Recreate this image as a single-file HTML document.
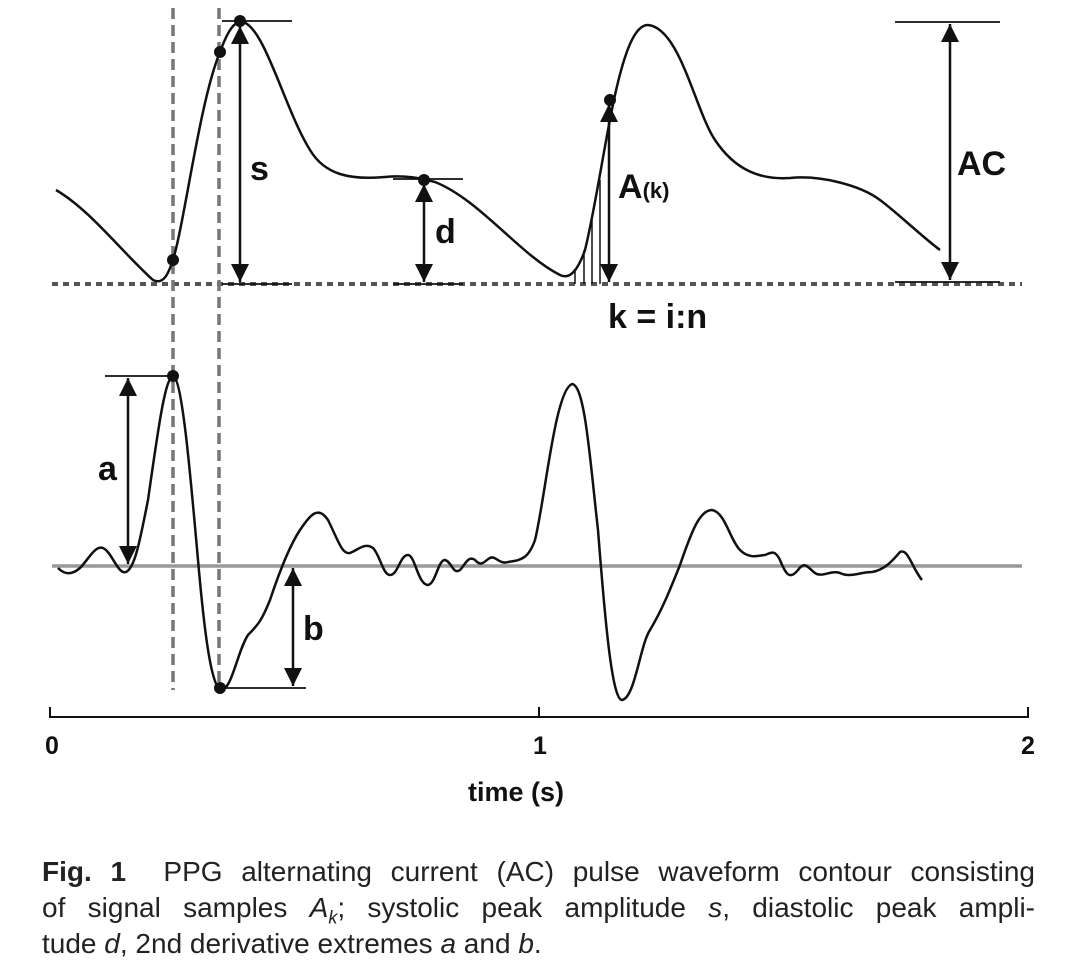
<!DOCTYPE html>
<html><head><meta charset="utf-8"><style>
body{margin:0;background:#fff;width:1081px;height:975px;overflow:hidden}
svg{position:absolute;left:0;top:0}
.cap{position:absolute;left:42px;top:854px;font-family:"Liberation Sans",sans-serif;font-size:28px;line-height:36px;color:#222;width:993px}
.cap div{text-align:justify;text-align-last:justify;white-space:nowrap}
.cap div.last{text-align-last:left}
</style></head><body>
<svg width="1081" height="975" viewBox="0 0 1081 975">
<defs>
<marker id="ah2" viewBox="0 0 10 10" refX="10" refY="5" markerWidth="30" markerHeight="18" markerUnits="userSpaceOnUse" orient="auto-start-reverse"><path d="M0,0L10,5L0,10z" fill="#111"/></marker>
</defs>
<g font-family="Liberation Sans,sans-serif" font-weight="bold" fill="#111">
<line x1="52" y1="284" x2="1022" y2="284" stroke="#555" stroke-width="4" stroke-dasharray="6,5"/>
<line x1="173" y1="8" x2="173" y2="690" stroke="#777" stroke-width="3.5" stroke-dasharray="11,6"/>
<line x1="219" y1="8" x2="219" y2="690" stroke="#777" stroke-width="3.5" stroke-dasharray="11,6"/>
<path d="M56,190 C90,210 120,250 153,280 C163,285 168,275 173,260 C185,220 200,100 220,52 C228,30 235,20 243,22 C265,28 285,110 310,150 C325,175 350,180 385,177 C405,175 420,178 435,182 C480,200 520,255 560,275 C570,280 578,270 585,250 C595,210 605,140 615,95 C625,50 635,25 648,25 C680,28 695,110 715,140 C735,170 760,180 790,178 C820,175 860,185 880,200 C900,215 920,235 940,250" fill="none" stroke="#111" stroke-width="2.5"/>
<g stroke="#111" stroke-width="1.5"><line x1="575" y1="270" x2="575" y2="284"/><line x1="584" y1="250" x2="584" y2="284"/><line x1="592" y1="218" x2="592" y2="284"/><line x1="600" y1="180" x2="600" y2="284"/></g>
<g stroke="#111" stroke-width="1.8">
<line x1="222" y1="21" x2="292" y2="21"/><line x1="222" y1="284" x2="292" y2="284"/>
<line x1="393" y1="179" x2="463" y2="179"/><line x1="393" y1="284" x2="463" y2="284"/>
<line x1="895" y1="22" x2="1000" y2="22"/><line x1="895" y1="282" x2="1000" y2="282"/>
<line x1="105" y1="376" x2="173" y2="376"/><line x1="105" y1="566" x2="173" y2="566"/>
<line x1="218" y1="566" x2="306" y2="566"/><line x1="218" y1="688" x2="306" y2="688"/>
</g>
<g stroke="#111" stroke-width="2.5" marker-start="url(#ah2)" marker-end="url(#ah2)">
<line x1="240" y1="26" x2="240" y2="282"/>
<line x1="424" y1="184" x2="424" y2="282"/>
<line x1="609" y1="104" x2="609" y2="282"/>
<line x1="950" y1="24" x2="950" y2="280"/>
<line x1="128" y1="378" x2="128" y2="564"/>
<line x1="293" y1="568" x2="293" y2="686"/>
</g>
<g fill="#111"><circle cx="173" cy="260" r="6"/><circle cx="220" cy="52" r="6"/><circle cx="240" cy="21" r="6"/><circle cx="424" cy="180" r="6"/><circle cx="610" cy="100" r="6"/><circle cx="173" cy="376" r="6"/><circle cx="220" cy="688" r="6"/></g>
<text x="250" y="180" font-size="34">s</text>
<text x="435" y="243" font-size="34">d</text>
<text x="618" y="198" font-size="34">A<tspan font-size="22">(k)</tspan></text>
<text x="957" y="175" font-size="34">AC</text>
<text x="608" y="328" font-size="34">k = i:n</text>
<text x="98" y="480" font-size="34">a</text>
<text x="303" y="640" font-size="34">b</text>
<line x1="52" y1="566" x2="1022" y2="566" stroke="#999" stroke-width="3.5"/>
<path d="M58,568 C65,575 72,575 80,568 C88,560 95,545 103,548 C112,552 118,575 126,572 C135,568 140,540 148,500 C158,430 165,378 173,376 C182,378 190,470 198,560 C205,640 212,690 222,690 C232,688 238,650 248,635 C258,625 262,620 270,600 C280,570 290,545 300,530 C310,515 318,505 328,520 C338,540 342,555 350,553 C358,550 365,542 373,548 C380,555 383,575 390,575 C398,575 400,555 408,555 C415,555 418,585 428,585 C436,583 438,560 445,560 C452,562 453,575 460,570 C465,565 468,555 475,560 C482,568 485,560 490,558 C495,555 500,565 508,562 C520,560 528,560 535,540 C545,500 555,390 572,384 C585,385 590,460 598,530 C605,620 612,700 622,700 C635,698 640,645 650,630 C662,610 670,590 680,565 C692,530 700,510 712,510 C725,512 730,540 740,550 C750,560 760,555 765,555 C772,552 775,550 780,560 C786,575 790,580 798,570 C805,560 808,568 815,573 C822,578 830,570 840,573 C850,578 860,572 872,572 C885,570 893,560 900,552 C908,548 912,568 922,580" fill="none" stroke="#111" stroke-width="2.5"/>
<g stroke="#111" stroke-width="2"><line x1="50" y1="717" x2="1028" y2="717"/><line x1="50" y1="707" x2="50" y2="718"/><line x1="539" y1="707" x2="539" y2="718"/><line x1="1028" y1="707" x2="1028" y2="718"/></g>
<text x="52" y="754" font-size="25" text-anchor="middle">0</text>
<text x="540" y="754" font-size="25" text-anchor="middle">1</text>
<text x="1028" y="754" font-size="25" text-anchor="middle">2</text>
<text x="516" y="801" font-size="27" text-anchor="middle">time (s)</text>
</g>
</svg>
<div class="cap">
<div><b>Fig. 1</b>&nbsp; PPG alternating current (AC) pulse waveform contour consisting</div>
<div>of signal samples <i>A<sub style="font-size:18px;line-height:0">k</sub></i>; systolic peak amplitude <i>s</i>, diastolic peak ampli-</div>
<div class="last">tude <i>d</i>, 2nd derivative extremes <i>a</i> and <i>b</i>.</div>
</div>
</body></html>
